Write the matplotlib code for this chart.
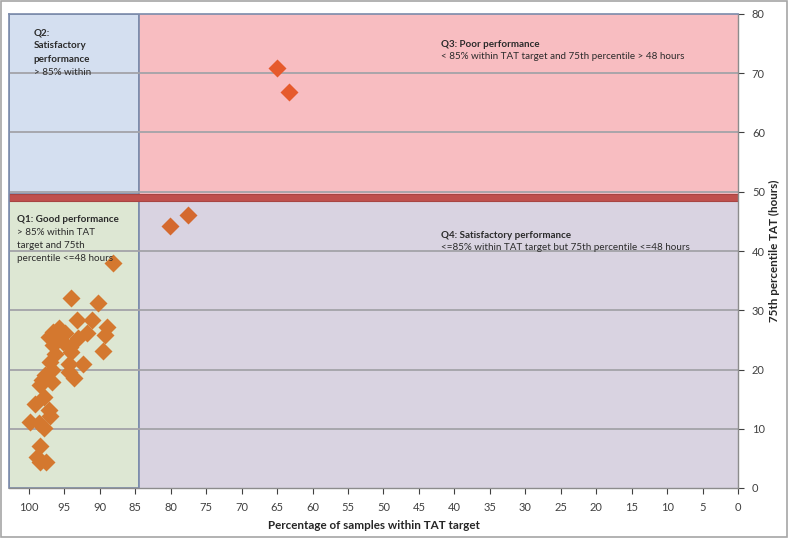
import matplotlib
matplotlib.use("Agg")
import matplotlib.pyplot as plt
from matplotlib.patches import Rectangle

# ---- data ----
q1_pct = [88.2, 94.1, 90.3, 93.2, 91.1, 89.0, 89.2, 91.8, 93.0, 95.7, 94.9, 96.6, 97.1,
          94.2, 96.6, 89.6, 94.0, 96.3, 92.4, 97.0, 94.3, 96.8, 94.4, 97.7, 93.7, 98.2,
          96.8, 98.4, 97.9, 99.2, 97.1, 97.0, 99.9, 98.5, 97.9, 98.4, 98.9, 98.4, 97.6,
          95.2, 96.2]
q1_p75 = [38.0, 32.0, 31.2, 28.4, 28.4, 27.2, 25.9, 26.1, 25.3, 27.0, 26.1, 26.4, 25.5,
          23.8, 24.1, 23.2, 23.0, 22.7, 21.0, 21.3, 21.0, 19.9, 19.6, 19.1, 18.5, 18.2,
          17.9, 17.4, 15.3, 14.2, 13.2, 12.2, 11.2, 11.0, 10.1, 7.1, 5.2, 4.4, 4.4,
          24.6, 25.0]
q4_pct = [80.1, 77.6]
q4_p75 = [44.2, 46.1]
q3_pct = [65.0, 63.3]
q3_p75 = [70.9, 66.8]

x_ticks = list(range(100, -1, -5))
y_ticks = list(range(0, 81, 10))
x_max = 102.8
y_max = 80
pct_threshold = 84.4
band_low, band_high = 48.5, 49.7

plt.rcParams['font.family'] = ['Lato', 'DejaVu Sans']

fig = plt.figure(figsize=(7.88, 5.38), dpi=100)
ax = fig.add_axes([9/788, 50/538, 729/788, 474/538])

# quadrant backgrounds
edge = '#7b8bab'
ax.add_patch(Rectangle((pct_threshold, 0), x_max - pct_threshold, band_low,
                       facecolor='#dde7d3', edgecolor=edge, lw=1.2, zorder=0))
ax.add_patch(Rectangle((0, 0), pct_threshold, band_low,
                       facecolor='#d9d3e1', edgecolor='none', zorder=0))
ax.add_patch(Rectangle((pct_threshold, band_high), x_max - pct_threshold, y_max - band_high,
                       facecolor='#d4dff0', edgecolor=edge, lw=1.2, zorder=0))
ax.add_patch(Rectangle((0, band_high), pct_threshold, y_max - band_high,
                       facecolor='#f8bdc1', edgecolor='none', zorder=0))
ax.axvline(pct_threshold, color=edge, lw=1.2, zorder=1)

for yv in y_ticks[1:-1]:
    ax.axhline(yv, color='#a3a3a8', lw=1.3, zorder=1)

ax.axhspan(band_low, band_high, facecolor='#c0504d', edgecolor='#a84442', lw=0.8, zorder=2)

ax.plot(q1_pct, q1_p75, 'D', color='#d4782f', ms=9, mec='none', zorder=3)
ax.plot(q4_pct, q4_p75, 'D', color='#d4692f', ms=9, mec='none', zorder=3)
ax.plot(q3_pct, q3_p75, 'D', color='#e65a2c', ms=9, mec='none', zorder=3)

ax.set_xlim(x_max, 0)
ax.set_ylim(0, y_max)
ax.set_xticks(x_ticks)
ax.set_yticks(y_ticks)
ax.yaxis.tick_right()
ax.yaxis.set_label_position('right')
ax.tick_params(axis='both', labelsize=8, colors='#404040', length=4, width=0.8)
ax.tick_params(axis='x', pad=6)
ax.tick_params(axis='y', pad=6)
ax.set_xlabel('Percentage of samples within TAT target', fontsize=8.4, fontweight='bold',
              color='#262626', labelpad=5)
ax.set_ylabel('75th percentile TAT (hours)', fontsize=8.4, fontweight='bold',
              color='#262626', labelpad=3)

for s in ['left', 'top']:
    ax.spines[s].set_color(edge)
    ax.spines[s].set_linewidth(1.2)
for s in ['right', 'bottom']:
    ax.spines[s].set_color('#8c8c8c')
    ax.spines[s].set_linewidth(1.0)

tc = '#2b2b2b'
fs = 7.1


def lines(x, ys, texts, weights):
    for yv, t, w in zip(ys, texts, weights):
        ax.text(x, yv, t, fontsize=fs, fontweight=w, color=tc, va='center',
                ha='left', zorder=4)


lines(99.3, [76.8, 74.6, 72.4, 70.1],
      ['Q2:', 'Satisfactory', 'performance', '> 85% within'],
      ['bold', 'bold', 'bold', 'normal'])
lines(101.7, [45.3, 43.2, 41.0, 38.8],
      ['Q1: Good performance', '> 85% within TAT', 'target and 75th', 'percentile <=48 hours'],
      ['bold', 'normal', 'normal', 'normal'])
lines(41.9, [74.9, 72.8],
      ['Q3: Poor performance', '< 85% within TAT target and 75th percentile > 48 hours'],
      ['bold', 'normal'])
lines(41.9, [42.7, 40.6],
      ['Q4: Satisfactory performance', '<=85% within TAT target but 75th percentile <=48 hours'],
      ['bold', 'normal'])

fig.patches.append(Rectangle((1/788, 1/538), 786/788, 536/538, transform=fig.transFigure,
                             fill=False, edgecolor='#a6a6a6', lw=1.2))

fig.savefig('out.png', dpi=100)
